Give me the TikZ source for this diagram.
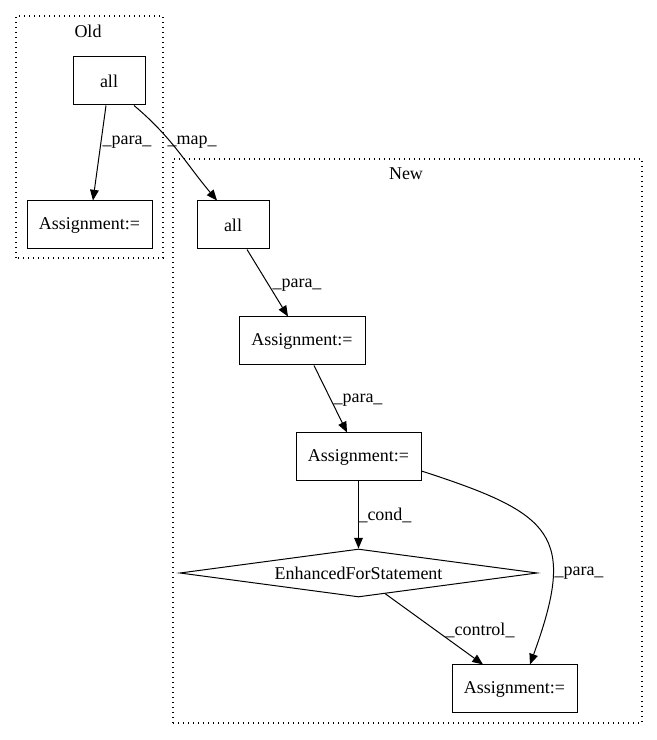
\documentclass[tikz,border=0pt]{standalone}
\usepackage{fontspec}
\setmainfont{Liberation Serif}
\usetikzlibrary{shapes.geometric}
\usetikzlibrary{arrows.meta}
\usetikzlibrary{calc}

\begin{document}
\begin{tikzpicture}[x=0.75pt,y=0.75pt,
    every node/.style={font=\fontsize{13.5}{16}\selectfont},
    box/.style={draw,rectangle,line width=0.75pt,minimum height=36pt,inner sep=0pt},
    decision/.style={draw,diamond,aspect=7.4,line width=0.75pt,minimum width=268pt,minimum height=36pt,inner sep=0pt},
    cluster/.style={line width=1pt,dash pattern=on 1pt off 2.75pt},
    conn/.style={line width=0.75pt,-{Triangle[length=8pt,width=6.5pt]}},
    lbl/.style={inner sep=1pt}]
    \useasboundingbox (0,0) rectangle (657,740);

    % Old cluster
    \draw[cluster] (16,482) rectangle (163,724);
    \node (oldlbl) at (88,709) {Old};
    \node[box,minimum width=54pt] (olda) at (109,659) {all};
    \node[box,minimum width=93.75pt] (oldasg) at (89.5,515) {Assignment:=};

    % New cluster
    \draw[cluster] (173,17) rectangle (642,581);
    \node (newlbl) at (406,566) {New};
    \node[box,minimum width=54pt] (newa) at (233,515) {all};
    \node[box,minimum width=94.5pt] (asgone) at (302,399) {Assignment:=};
    \node[box,minimum width=93.75pt] (asgtwo) at (358.5,283) {Assignment:=};
    \node[decision] (efs) at (358.5,167) {EnhancedForStatement};
    \node[box,minimum width=93.75pt] (asgthree) at (514.5,51) {Assignment:=};

    % Edges
    \draw[conn] ([xshift=-2.25pt]olda.south) -- ([xshift=2.6pt]oldasg.north);
    \node[lbl] (lparaold) at (127,598) {\_para\_};
    \draw[conn] ([xshift=18.75pt]olda.south) to[out=-40,in=130] ([xshift=-12pt]newa.north);
    \node[lbl] (lmap) at (192,598) {\_map\_};
    \draw[conn] ([xshift=10.5pt]newa.south) -- ([xshift=-10.5pt]asgone.north);
    \node[lbl] (lparaone) at (297,455) {\_para\_};
    \draw[conn] ([xshift=9pt]asgone.south) -- ([xshift=-8.6pt]asgtwo.north);
    \node[lbl] (lparatwo) at (358,340) {\_para\_};
    \draw[conn] (asgtwo.south) -- (efs.north);
    \node[lbl] (lcond) at (385,225) {\_cond\_};
    \draw[conn] ([yshift=-10.5pt]asgtwo.east) to[out=-18,in=70,looseness=1.6] ([xshift=11.6pt]asgthree.north);
    \node[lbl] (lparathree) at (579,167) {\_para\_};
    \draw[conn] ($(efs.south)!0.15!(efs.east)$) -- ([xshift=-23.6pt]asgthree.north);
    \node[lbl] (lcontrol) at (480,110) {\_control\_};
\end{tikzpicture}
\end{document}
